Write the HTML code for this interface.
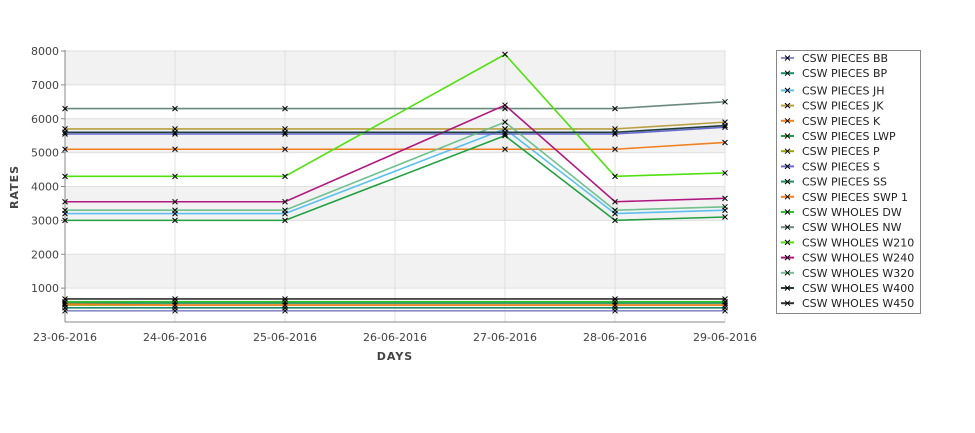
<!DOCTYPE html>
<html><head><meta charset="utf-8"><style>
body{margin:0;background:#fff;font-family:"DejaVu Sans","Liberation Sans",sans-serif}
svg text{font-family:"DejaVu Sans","Liberation Sans",sans-serif}
</style></head><body>
<svg id="c" width="975" height="429"></svg>
<script>
const days=["23-06-2016","24-06-2016","25-06-2016","26-06-2016","27-06-2016","28-06-2016","29-06-2016"];
const yTicks=[1000,2000,3000,4000,5000,6000,7000,8000];
const names=["CSW PIECES BB","CSW PIECES BP","CSW PIECES JH","CSW PIECES JK","CSW PIECES K","CSW PIECES LWP","CSW PIECES P","CSW PIECES S","CSW PIECES SS","CSW PIECES SWP 1","CSW WHOLES DW","CSW WHOLES NW","CSW WHOLES W210","CSW WHOLES W240","CSW WHOLES W320","CSW WHOLES W400","CSW WHOLES W450"];
const colors=["#8c8cc8","#1e8a6e","#5bbfef","#b8a040","#f08020","#20a040","#a0a010","#6a6ad0","#209060","#f08020","#30c030","#6a8a80","#50e010","#b01880","#70c090","#204040","#303030"];
const vBB=[330,330,330,null,null,330,330];
const vBP=[420,420,420,null,null,420,420];
const vJH=[3200,3200,3200,null,5700,3200,3300];
const vJK=[5700,5700,5700,null,5700,5700,5900];
const vK=[5100,5100,5100,null,5100,5100,5300];
const vLWP=[3000,3000,3000,null,5500,3000,3100];
const vP=[500,500,500,null,null,500,500];
const vS=[5550,5550,5550,null,5550,5550,5750];
const vSS=[560,560,560,null,null,560,560];
const vSWP=[530,500,500,null,null,500,500];
const vDW=[600,600,600,null,null,600,600];
const vNW=[6300,6300,6300,null,6300,6300,6500];
const vW210=[4300,4300,4300,null,7900,4300,4400];
const vW240=[3550,3550,3550,null,6400,3550,3650];
const vW320=[3300,3300,3300,null,5900,3300,3400];
const vW400=[5600,5600,5600,null,5600,5600,5800];
const vW450=[680,680,680,null,null,680,680];
const series=[vBB,vBP,vJH,vJK,vK,vLWP,vP,vS,vSS,vSWP,vDW,vNW,vW210,vW240,vW320,vW400,vW450];
const svg=document.getElementById('c');const NS="http://www.w3.org/2000/svg";
const X0=65,X1=725,Y0=322,Y1=51,YMAX=8000;
const xs=i=>X0+i*(X1-X0)/(days.length-1);
const ys=v=>Y0-v*(Y0-Y1)/YMAX;
function el(t,a,p){const e=document.createElementNS(NS,t);for(const k in a)e.setAttribute(k,a[k]);(p||svg).appendChild(e);return e;}
for(let i=0;i<yTicks.length;i++){const lo=i==0?0:yTicks[i-1];
 if(i%2==1){const b=el('rect',{x:X0,y:ys(yTicks[i]),width:X1-X0,height:ys(lo)-ys(yTicks[i]),fill:'#f2f2f2'});
 
 }}
yTicks.forEach(v=>{const g=el('line',{x1:X0,x2:X1,y1:ys(v),y2:ys(v),stroke:'#e0e0e0'});
 
 
 el('line',{x1:X0-4,x2:X0,y1:ys(v),y2:ys(v),stroke:'#888'});
 const t=el('text',{x:X0-6,y:ys(v)+4,'text-anchor':'end','font-size':11,fill:'#444'});t.textContent=v;
 
 });
days.forEach((d,i)=>{const g=el('line',{x1:xs(i),x2:xs(i),y1:Y1-1,y2:Y0,stroke:'#e0e0e0'});
 
 
 const t=el('text',{x:xs(i),y:341,'text-anchor':'middle','font-size':11,fill:'#444'});t.textContent=d;
 
 });
el('line',{x1:X0,x2:X0,y1:Y1-1,y2:Y0,stroke:'#888'});el('line',{x1:X0,x2:X1,y1:Y0,y2:Y0,stroke:'#888'});
let t=el('text',{x:395,y:360,'text-anchor':'middle','font-size':11,'font-weight':'bold',fill:'#444','letter-spacing':1});t.textContent='DAYS';


t=el('text',{x:18,y:187,'text-anchor':'middle','font-size':11,'font-weight':'bold',fill:'#444','letter-spacing':1,transform:'rotate(-90 18 187)'});t.textContent='RATES';


function mk(g,x,y){el('path',{d:`M${x-2.5},${y-2.5}L${x+2.5},${y+2.5}M${x-2.5},${y+2.5}L${x+2.5},${y-2.5}`,stroke:'#000','stroke-width':1},g);}
series.forEach((s,k)=>{const g=el('g',{});
 
 
 const pts=[];s.forEach((v,i)=>{if(v!=null)pts.push([xs(i),ys(v)]);});
 el('polyline',{points:pts.map(p=>p.join(',')).join(' '),fill:'none',stroke:colors[k],'stroke-width':1.6},g);
 pts.forEach(p=>mk(g,p[0],p[1]));});
const lg=el('g',{});
el('rect',{x:776.5,y:50.5,width:144,height:263,fill:'#fff',stroke:'#888'},lg);
names.forEach((n,k)=>{const y=58+k*15.2+(k>=2?2:0);const e=el('g',{},lg);
 
 
 el('line',{x1:781,x2:794,y1:y,y2:y,stroke:colors[k],'stroke-width':2},e);mk(e,787.5,y);
 const tt=el('text',{x:802,y:y+4,'font-size':11,fill:'#222'},e);tt.textContent=n;});
</script></body></html>
